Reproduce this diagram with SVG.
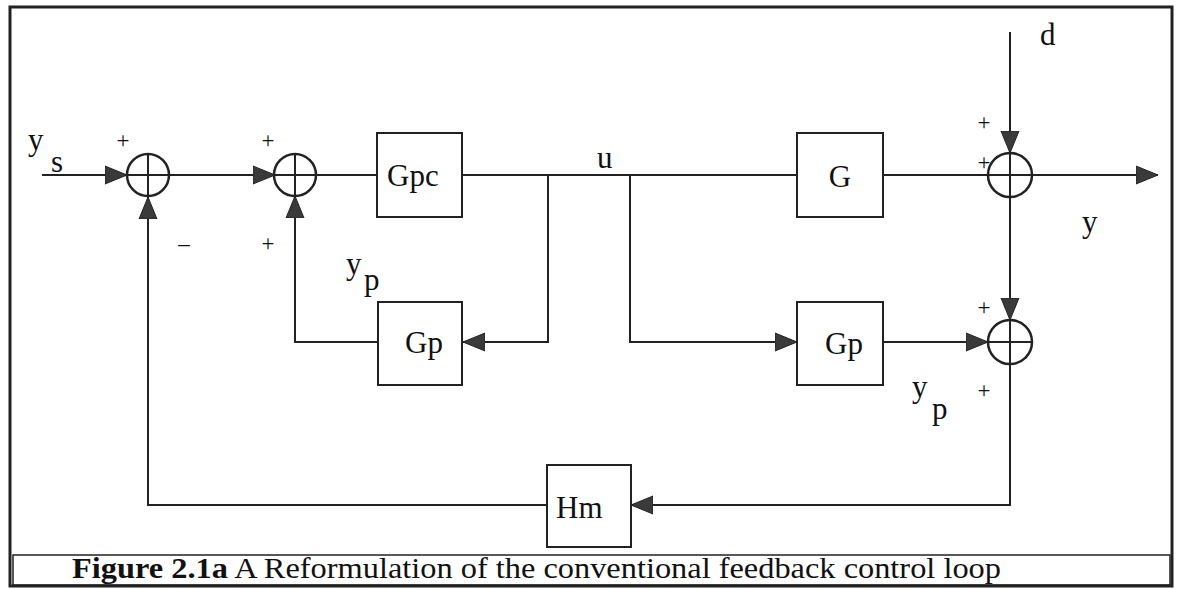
<svg xmlns="http://www.w3.org/2000/svg" width="1183" height="589" viewBox="0 0 1183 589">
<style>
.frame{fill:none;stroke:#222;stroke-width:3}
.cap{fill:none;stroke:#222;stroke-width:1.5}
.box{fill:#fff;stroke:#222;stroke-width:2}
.sum{fill:#fff;stroke:#222;stroke-width:2.5}
.cross{stroke:#222;stroke-width:2}
.wire{fill:none;stroke:#222;stroke-width:2}
.arr{fill:none;stroke:#222;stroke-width:2;marker-end:url(#ah)}
.lbl{font-family:"Liberation Serif","Times New Roman",serif;font-size:31px;fill:#111}
.sgn{font-family:"Liberation Serif","Times New Roman",serif;font-size:23px;fill:#111}
.title{font-family:"Liberation Serif","Times New Roman",serif;font-size:30px;fill:#111}
</style>
<defs>
<marker id="ah" markerUnits="userSpaceOnUse" markerWidth="24" markerHeight="20" viewBox="0 0 24 20" refX="22" refY="10" orient="auto">
<path d="M0,1 L22,10 L0,19 Z" fill="#3a3a3a" stroke="#222" stroke-width="1"/>
</marker>
</defs>
<rect width="1183" height="589" fill="#fff"/>
<rect class="frame" x="10" y="7" width="1162" height="579"/>
<rect class="cap" x="13" y="555" width="1157" height="30"/>

<g id="connectors">
<path class="arr" d="M42,175 H127"/>
<path class="arr" d="M169,175 H275"/>
<path class="wire" d="M316,175 H378"/>
<path class="wire" d="M462,175 H797"/>
<path class="arr" d="M548,175 V342 H463"/>
<path class="arr" d="M630,175 V342 H797"/>
<path class="arr" d="M378,342 H295 V196"/>
<path class="wire" d="M883,175 H988"/>
<path class="arr" d="M1032,175 H1158"/>
<path class="arr" d="M1010,32 V153"/>
<path class="arr" d="M1010,197 V320"/>
<path class="arr" d="M883,342 H988"/>
<path class="arr" d="M1010,364 V505 H631"/>
<path class="arr" d="M547,505 H148 V197"/>
</g>

<g id="sum1">
<circle class="sum" cx="148" cy="175" r="21"/>
<path class="cross" d="M127,175 H169 M148,154 V196"/>
<text class="sgn" x="123" y="148" text-anchor="middle">+</text>
<text class="sgn" x="184" y="251" text-anchor="middle">–</text>
</g>
<g id="sum2">
<circle class="sum" cx="295" cy="175" r="21"/>
<path class="cross" d="M274,175 H316 M295,154 V196"/>
<text class="sgn" x="268" y="148" text-anchor="middle">+</text>
<text class="sgn" x="268" y="251" text-anchor="middle">+</text>
</g>
<g id="sum3">
<circle class="sum" cx="1010" cy="175" r="22"/>
<path class="cross" d="M988,175 H1032 M1010,153 V197"/>
<text class="sgn" x="984" y="130" text-anchor="middle">+</text>
<text class="sgn" x="984" y="170" text-anchor="middle">+</text>
</g>
<g id="sum4">
<circle class="sum" cx="1010" cy="342" r="22"/>
<path class="cross" d="M988,342 H1032 M1010,320 V364"/>
<text class="sgn" x="984" y="315" text-anchor="middle">+</text>
<text class="sgn" x="984" y="398" text-anchor="middle">+</text>
</g>

<g id="Gpc">
<rect class="box" x="377" y="133" width="85" height="84"/>
<text class="lbl" x="387" y="186">Gpc</text>
</g>
<g id="G">
<rect class="box" x="797" y="133" width="86" height="84"/>
<text class="lbl" x="840" y="187" text-anchor="middle">G</text>
</g>
<g id="Gp_left">
<rect class="box" x="378" y="302" width="84" height="83"/>
<text class="lbl" x="405" y="353">Gp</text>
</g>
<g id="Gp_right">
<rect class="box" x="797" y="302" width="86" height="83"/>
<text class="lbl" x="825" y="354">Gp</text>
</g>
<g id="Hm">
<rect class="box" x="547" y="465" width="84" height="82"/>
<text class="lbl" x="556" y="518">Hm</text>
</g>

<g id="labels">
<text class="lbl" x="28" y="150">y</text>
<text class="lbl" x="51" y="172">s</text>
<text class="lbl" x="346" y="274">y</text>
<text class="lbl" x="364" y="290">p</text>
<text class="lbl" x="597" y="168">u</text>
<text class="lbl" x="1040" y="45">d</text>
<text class="lbl" x="1082" y="232">y</text>
<text class="lbl" x="912" y="397">y</text>
<text class="lbl" x="932" y="419">p</text>
</g>

<g id="caption">
<text class="title" x="72" y="578" textLength="929" lengthAdjust="spacingAndGlyphs"><tspan font-weight="bold">Figure 2.1a</tspan> A Reformulation of the conventional feedback control loop</text>
</g>
</svg>
